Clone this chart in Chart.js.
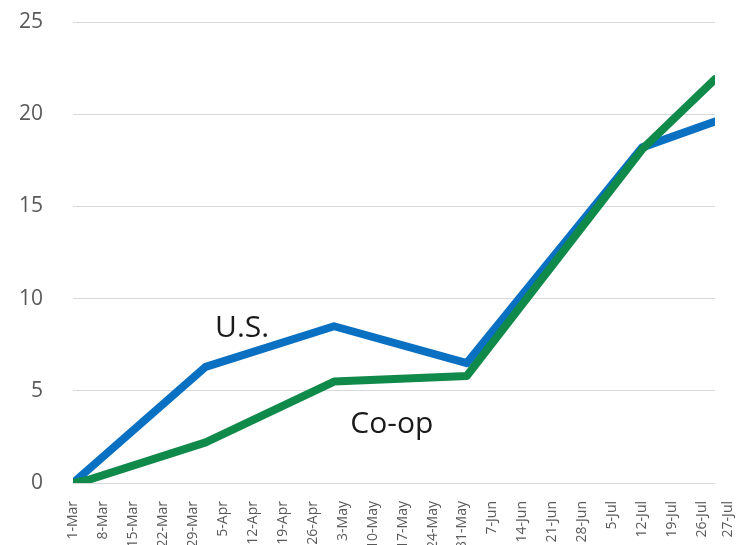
<!DOCTYPE html>
<html>
<head>
<meta charset="utf-8">
<script src="https://cdn.jsdelivr.net/npm/chart.js@4"></script>
<style>
  html, body { margin: 0; padding: 0; background: #fff; }
  #wrap { width: 742px; height: 545px; position: relative; }
</style>
</head>
<body>
<div id="wrap"><canvas id="chart"></canvas></div>
<script>
// dni liczone od 1-Mar
const tickLabels = ['1-Mar', '8-Mar', '15-Mar', '22-Mar', '29-Mar', '5-Apr', '12-Apr', '19-Apr',
    '26-Apr', '3-May', '10-May', '17-May', '24-May', '31-May', '7-Jun', '14-Jun', '21-Jun',
    '28-Jun', '5-Jul', '12-Jul', '19-Jul', '26-Jul', '27-Jul'];
const tickDays = [0, 7, 14, 21, 28, 35, 42, 49, 56, 63, 70, 77, 84, 91, 98, 105, 112,
    119, 126, 133, 140, 147, 153];

const usDays = [0, 31, 61, 92, 133, 150];
const usValues = [0, 6.3, 8.5, 6.5, 18.2, 19.6];

const coopDays = [0, 4, 31, 61, 92, 133, 150];
const coopValues = [0, 0.2, 2.2, 5.5, 5.8, 18.1, 21.9];

const yTicks = [0, 5, 10, 15, 20, 25];

const toPoints = (days, vals) => days.map((d, i) => ({ x: d, y: vals[i] }));

// napisy przy liniach (w jednostkach danych)
const seriesNotes = [
    { text: 'U.S.', day: 39.5, value: 8.4 },
    { text: 'Co-op', day: 74.5, value: 3.2 }
];

const notesPlugin = {
    id: 'seriesNotes',
    afterDatasetsDraw(chart) {
        const { ctx, scales } = chart;
        ctx.save();
        ctx.font = '30px "Open Sans", sans-serif';
        ctx.fillStyle = '#1a1a1a';
        ctx.textAlign = 'center';
        ctx.textBaseline = 'middle';
        seriesNotes.forEach(n => {
            ctx.fillText(n.text, scales.x.getPixelForValue(n.day), scales.y.getPixelForValue(n.value));
        });
        ctx.restore();
    }
};

const lineStyle = {
    borderWidth: 8,
    pointRadius: 0,
    fill: false,
    tension: 0,
    borderCapStyle: 'round',
    borderJoinStyle: 'round'
};

new Chart(document.getElementById('chart'), {
    type: 'line',
    data: {
        datasets: [
            { label: 'U.S.', data: toPoints(usDays, usValues), borderColor: '#0970C2', order: 1, ...lineStyle },
            { label: 'Co-op', data: toPoints(coopDays, coopValues), borderColor: '#108A4A', order: 0, ...lineStyle }
        ]
    },
    options: {
        responsive: true,
        maintainAspectRatio: false,
        animation: false,
        layout: { padding: { top: 22, right: 27, left: 0, bottom: 0 } },
        plugins: {
            legend: { display: false },
            tooltip: { enabled: false }
        },
        scales: {
            x: {
                type: 'linear',
                min: 0,
                max: 150,
                grid: { display: false },
                border: { display: false },
                afterBuildTicks: (scale) => { scale.ticks = tickDays.map(v => ({ value: v })); },
                afterFit: (scale) => {
                    scale.height = 62;
                    scale.paddingLeft = 0;
                    scale.paddingRight = 0;
                },
                ticks: {
                    autoSkip: false,
                    maxRotation: 90,
                    minRotation: 90,
                    padding: 10,
                    color: '#595959',
                    font: { family: 'Open Sans', size: 14 },
                    callback: (val, i) => tickLabels[i]
                }
            },
            y: {
                min: 0,
                max: 25,
                afterBuildTicks: (scale) => { scale.ticks = yTicks.map(v => ({ value: v })); },
                afterFit: (scale) => {
                    scale.width = 73;
                    scale.paddingTop = 0;
                    scale.paddingBottom = 0;
                },
                grid: { color: '#d9d9d9', lineWidth: 1, drawTicks: false },
                border: { display: false },
                ticks: {
                    padding: 30,
                    color: '#595959',
                    font: { family: 'Open Sans', size: 21 }
                }
            }
        }
    },
    plugins: [notesPlugin]
});
</script>
</body>
</html>
